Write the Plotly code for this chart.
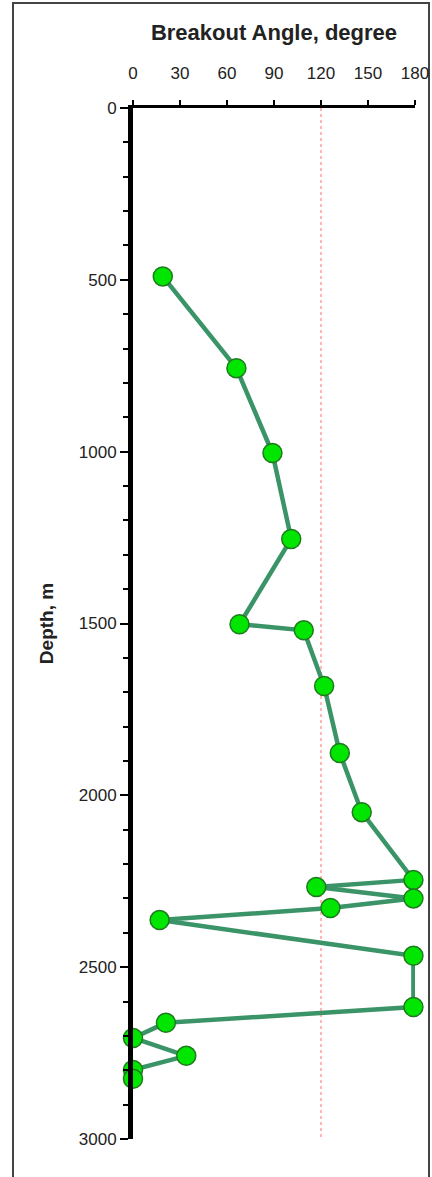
import plotly.graph_objects as go

angle = [19, 66, 89, 101, 68, 109, 122, 132, 146, 179, 117, 179, 126, 17, 179, 179, 21, 0, 34, 0, 0]
depth = [490, 757, 1004, 1254, 1502, 1520, 1682, 1877, 2049, 2246, 2267, 2300, 2328, 2363, 2467, 2616, 2662, 2706, 2758, 2799, 2825]
ref_angle = 120
x_ticks = [0, 30, 60, 90, 120, 150, 180]
y_ticks = [0, 500, 1000, 1500, 2000, 2500, 3000]

W, H = 432, 1177
L, R, T, B = 133, 17, 108, 38
pw, ph = W - L - R, H - T - B

fig = go.Figure()
fig.add_trace(go.Scatter(
    x=[ref_angle, ref_angle], y=[0, 3000], mode="lines",
    line=dict(color="#ff7070", width=1, dash="dot"), showlegend=False, hoverinfo="skip"))
fig.add_trace(go.Scatter(
    x=angle, y=depth, mode="lines+markers",
    line=dict(color="#3a9467", width=4.5),
    marker=dict(size=19, color="#00e600", line=dict(color="#1f7a1f", width=1.5)),
    cliponaxis=False, showlegend=False))

font = "Liberation Sans, Arial, sans-serif"
fig.update_layout(
    width=W, height=H,
    margin=dict(l=L, r=R, t=T, b=B, autoexpand=False),
    plot_bgcolor="white", paper_bgcolor="white",
    font=dict(family=font, size=17, color="#222"),
    xaxis=dict(side="top", range=[0, 180], tickvals=x_ticks, ticks="outside",
               ticklen=5, tickwidth=2, tickcolor="black", ticklabelstandoff=14,
               showline=True, linewidth=3, linecolor="black", showgrid=False, zeroline=False,
               automargin=False,
               title=dict(text="<b>Breakout Angle, degree</b>", font=dict(size=22, color="#222"), standoff=18),
               tickfont=dict(size=17)),
    yaxis=dict(range=[3000, 0], tickvals=y_ticks, ticks="outside",
               ticklen=8, tickwidth=2, tickcolor="black",
               minor=dict(dtick=100, ticks="outside", ticklen=5, tickwidth=2, tickcolor="black"),
               showline=True, linewidth=5, linecolor="black", showgrid=False, zeroline=False,
               automargin=False,
               title=dict(text="<b>Depth, m</b>", font=dict(size=19, color="#222"), standoff=22),
               tickfont=dict(size=17)),
)

fig.add_shape(type="rect", xref="paper", yref="paper",
              x0=(13 - L) / pw, x1=(429 - L) / pw,
              y0=(H - B - 1180) / ph, y1=1 + (T - 3) / ph,
              line=dict(color="#444", width=2), layer="below")

fig.write_html("out.html", config={"displayModeBar": False},
               post_script="document.body.style.margin='0';document.body.style.overflow='hidden';")
